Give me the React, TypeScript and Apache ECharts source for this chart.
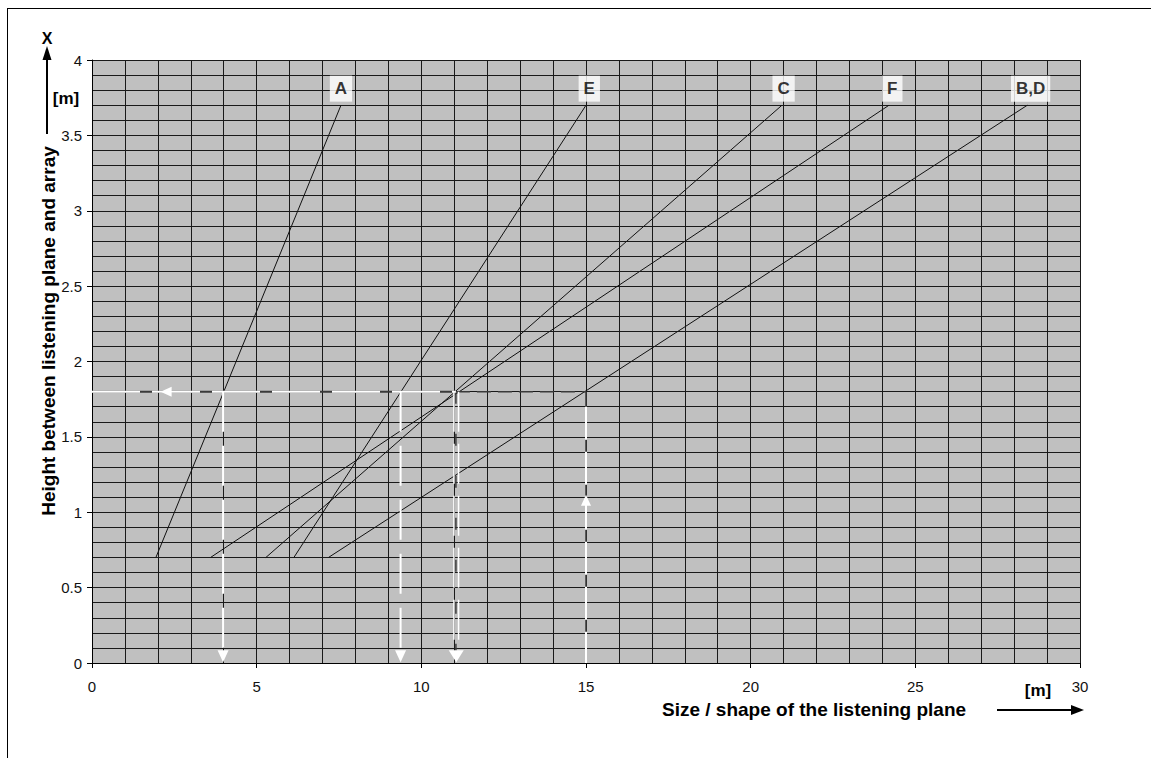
import React, { useEffect, useRef } from "react";
import * as echarts from "echarts";

// ---- data ----
const lineNames = ["A", "E", "C", "F", "B,D"];
const lineStartX = [1.94, 6.13, 5.28, 3.6, 7.18];
const lineEndX = [7.56, 15.0, 20.95, 24.2, 28.4];
const lineStartY = [0.7, 0.7, 0.7, 0.7, 0.7];
const lineEndY = [3.7, 3.7, 3.7, 3.7, 3.7];
const labelX = [7.56, 15.1, 21.0, 24.3, 28.5];
const labelY = [3.81, 3.81, 3.81, 3.81, 3.81];

const readHeight = 1.8;
const readSizes = [3.98, 9.37, 11.05, 15.0];
const upArrowHeight = 1.08;
const leftArrowX = 2.25;

const xTicks = [0, 5, 10, 15, 20, 25, 30];
const yTicks = [0, 0.5, 1, 1.5, 2, 2.5, 3, 3.5, 4];

const FONT = "Arial, 'Liberation Sans', sans-serif";

export default function App() {
  const ref = useRef<HTMLDivElement>(null);

  useEffect(() => {
    if (!ref.current) return;
    const chart = echarts.init(ref.current, null, { renderer: "svg" });

    const curveSeries = lineNames.map((n, i) => ({
      type: "line",
      name: n,
      symbol: "none",
      silent: true,
      z: 3,
      lineStyle: { color: "#111", width: 1 },
      data: [
        [lineStartX[i], lineStartY[i]],
        [lineEndX[i], lineEndY[i]],
      ],
    }));

    const white = "#ffffff";
    const dark = "#3a3a3a";
    const dashLine = (data: number[][], color: string, width: number, type: any, z = 4) => ({
      type: "line",
      symbol: "none",
      silent: true,
      z,
      lineStyle: { color, width, type },
      data,
    });

    const [s1, s2, s3, s4] = readSizes;
    const refSeries = [
      // horizontal reading line
      dashLine([[0, readHeight], [s3, readHeight]], dark, 2, "solid"),
      dashLine([[0, readHeight], [s3, readHeight]], white, 2, [48, 12], 5),
      dashLine([[s3, readHeight], [s4, readHeight]], dark, 1.5, [14, 7]),
      // vertical reading lines
      dashLine([[s1, readHeight], [s1, 0.06]], white, 2, [40, 14], 5),
      dashLine([[s2, readHeight], [s2, 0.06]], white, 2, [40, 14], 5),
      dashLine([[s3, readHeight], [s3, 0.06]], dark, 1.5, [12, 30]),
      dashLine([[s3 - 0.06, readHeight], [s3 - 0.06, 0.06]], white, 1.5, [40, 12], 5),
      dashLine([[s3 + 0.08, readHeight], [s3 + 0.08, 0.06]], white, 1.5, [40, 12], 5),
      dashLine([[s4, readHeight], [s4, 0]], dark, 1.5, "solid"),
      dashLine([[s4, readHeight - 0.1], [s4, 0]], white, 2, [33, 12], 5),
    ];

    const arrowSeries = {
      type: "scatter",
      silent: true,
      z: 6,
      itemStyle: { color: white, opacity: 1 },
      data: [
        { value: [leftArrowX, readHeight], symbol: "triangle", symbolSize: [10, 11], symbolRotate: 90 },
        { value: [s1, 0.045], symbol: "triangle", symbolSize: [11, 12], symbolRotate: 180 },
        { value: [s2, 0.045], symbol: "triangle", symbolSize: [11, 12], symbolRotate: 180 },
        { value: [s3 + 0.01, 0.045], symbol: "triangle", symbolSize: [15, 12], symbolRotate: 180 },
        { value: [s4, upArrowHeight], symbol: "triangle", symbolSize: [10, 11], symbolRotate: 0 },
      ],
    };

    const labelSeries = {
      type: "scatter",
      silent: true,
      z: 7,
      symbolSize: 1,
      itemStyle: { color: "rgba(0,0,0,0)" },
      label: {
        show: true,
        position: "inside",
        formatter: (p: any) => p.name,
        backgroundColor: "#ffffff",
        color: "#000",
        fontFamily: FONT,
        fontWeight: "bold",
        fontSize: 17,
        lineHeight: 17,
        padding: [5, 5, 4, 5],
      },
      data: lineNames.map((n, i) => ({ name: n, value: [labelX[i], labelY[i]] })),
    };

    const gridLine = { show: true, lineStyle: { color: "#1a1a1a", width: 1 } };

    chart.setOption({
      animation: false,
      grid: {
        left: 92,
        top: 60,
        width: 988,
        height: 603,
        show: true,
        backgroundColor: "#c0c0c0",
        borderWidth: 0,
      },
      xAxis: {
        type: "value",
        min: xTicks[0],
        max: xTicks[xTicks.length - 1],
        interval: 5,
        axisLine: { show: true, onZero: false, lineStyle: { color: "#000", width: 1 } },
        axisTick: { show: true, length: 5, lineStyle: { color: "#000" } },
        axisLabel: { color: "#111", fontFamily: FONT, fontSize: 15, margin: 16 },
        splitLine: gridLine,
        minorTick: { show: false, splitNumber: 5 },
        minorSplitLine: gridLine,
      },
      yAxis: {
        type: "value",
        min: yTicks[0],
        max: yTicks[yTicks.length - 1],
        interval: 0.5,
        axisLine: { show: true, onZero: false, lineStyle: { color: "#000", width: 1 } },
        axisTick: { show: true, length: 5, lineStyle: { color: "#000" } },
        axisLabel: { color: "#111", fontFamily: FONT, fontSize: 15, margin: 10 },
        splitLine: gridLine,
        minorTick: { show: false, splitNumber: 5 },
        minorSplitLine: gridLine,
      },
      graphic: [
        // outer frame
        { type: "line", shape: { x1: 8, y1: 8.5, x2: 1151, y2: 8.5 }, style: { stroke: "#000", lineWidth: 1 } },
        { type: "line", shape: { x1: 7.5, y1: 8, x2: 7.5, y2: 758 }, style: { stroke: "#000", lineWidth: 1 } },
        // y axis name
        {
          type: "text",
          x: 48,
          y: 331,
          rotation: Math.PI / 2,
          style: {
            text: "Height between listening plane and array",
            font: `bold 19px ${FONT}`,
            fill: "#000",
            textAlign: "center",
            textVerticalAlign: "middle",
          },
        },
        // y arrow
        { type: "line", shape: { x1: 47, y1: 134, x2: 47, y2: 58 }, style: { stroke: "#000", lineWidth: 2 } },
        { type: "polygon", shape: { points: [[47, 46], [42.5, 60], [51.5, 60]] }, style: { fill: "#000" } },
        {
          type: "text",
          x: 47,
          y: 38,
          style: { text: "X", font: `bold 16px ${FONT}`, fill: "#000", textAlign: "center", textVerticalAlign: "middle" },
        },
        {
          type: "text",
          x: 66,
          y: 98,
          style: { text: "[m]", font: `bold 17px ${FONT}`, fill: "#000", textAlign: "center", textVerticalAlign: "middle" },
        },
        // x axis name
        {
          type: "text",
          x: 662,
          y: 709,
          style: {
            text: "Size / shape of the listening plane",
            font: `bold 19px ${FONT}`,
            fill: "#000",
            textAlign: "left",
            textVerticalAlign: "middle",
          },
        },
        {
          type: "text",
          x: 1038,
          y: 690,
          style: { text: "[m]", font: `bold 17px ${FONT}`, fill: "#000", textAlign: "center", textVerticalAlign: "middle" },
        },
        // x arrow
        { type: "line", shape: { x1: 997, y1: 710, x2: 1073, y2: 710 }, style: { stroke: "#000", lineWidth: 2 } },
        { type: "polygon", shape: { points: [[1084, 710], [1071, 705], [1071, 715]] }, style: { fill: "#000" } },
      ],
      series: [...curveSeries, ...refSeries, arrowSeries, labelSeries],
    });

    return () => chart.dispose();
  }, []);

  return (
    <div
      ref={ref}
      style={{ position: "fixed", left: 0, top: 0, width: 1151, height: 758, background: "#fff", overflow: "hidden" }}
    />
  );
}
